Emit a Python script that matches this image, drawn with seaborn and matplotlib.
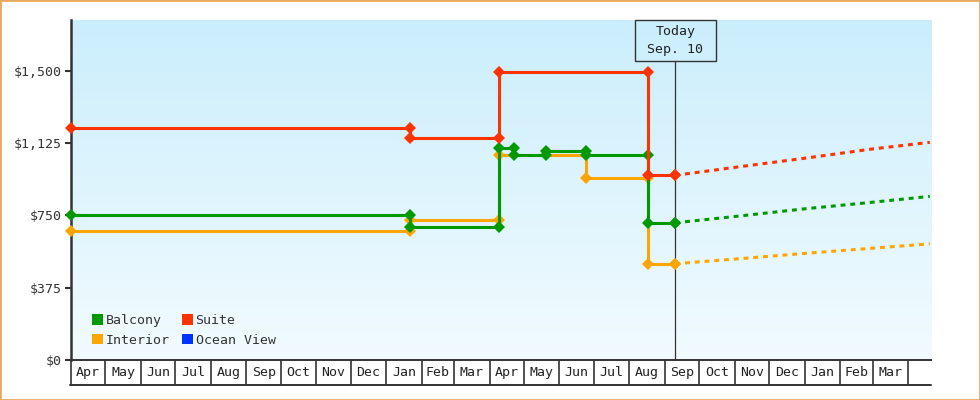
import numpy as np
import pandas as pd
import matplotlib
matplotlib.use("Agg")
import matplotlib.pyplot as plt
import matplotlib.dates as mdates
import matplotlib.transforms as mtransforms
from matplotlib.patches import Rectangle, Patch
from matplotlib.lines import Line2D
from matplotlib.colors import LinearSegmentedColormap
import seaborn as sns

# ---------------- data ----------------
suite_dates = ["2013-04-01", "2014-01-22", "2014-01-22", "2014-04-09", "2014-04-09",
               "2014-08-17", "2014-08-17", "2014-09-10"]
suite_prices = [1200, 1200, 1150, 1150, 1495, 1495, 957, 957]

balcony_dates = ["2013-04-01", "2014-01-22", "2014-01-22", "2014-04-09", "2014-04-09",
                 "2014-04-22", "2014-04-22", "2014-05-20", "2014-05-20", "2014-06-24",
                 "2014-06-24", "2014-08-17", "2014-08-17", "2014-09-10"]
balcony_prices = [750, 750, 688, 688, 1100, 1100, 1062, 1062, 1082, 1082, 1062, 1062, 711, 711]

interior_dates = ["2013-04-01", "2014-01-22", "2014-01-22", "2014-04-09", "2014-04-09",
                  "2014-06-24", "2014-06-24", "2014-08-17", "2014-08-17", "2014-09-10"]
interior_prices = [669, 669, 726, 726, 1062, 1062, 943, 943, 499, 499]

forecast_dates = ["2014-09-10", "2014-11-03", "2014-12-31", "2015-02-28", "2015-04-20"]
suite_forecast = [957, 1000, 1045, 1093, 1128]
balcony_forecast = [711, 745, 783, 817, 848]
interior_forecast = [499, 524, 552, 579, 602]

categories = ["Balcony", "Interior", "Suite", "Ocean View"]
colors = {"Balcony": "#009900", "Interior": "#ffa500", "Suite": "#ff3300", "Ocean View": "#0033ff"}

y_ticks = [0, 375, 750, 1125, 1500]
y_tick_labels = ["$0", "$375", "$750", "$1,125", "$1,500"]
month_labels = ["Apr", "May", "Jun", "Jul", "Aug", "Sep", "Oct", "Nov", "Dec", "Jan", "Feb", "Mar",
                "Apr", "May", "Jun", "Jul", "Aug", "Sep", "Oct", "Nov", "Dec", "Jan", "Feb", "Mar"]
today = "2014-09-10"
today_label = "Today\nSep. 10"

# ---------------- frames ----------------
hist = pd.concat([
    pd.DataFrame({"date": pd.to_datetime(interior_dates), "price": interior_prices, "cabin": "Interior"}),
    pd.DataFrame({"date": pd.to_datetime(balcony_dates), "price": balcony_prices, "cabin": "Balcony"}),
    pd.DataFrame({"date": pd.to_datetime(suite_dates), "price": suite_prices, "cabin": "Suite"}),
], ignore_index=True)
fc = pd.concat([
    pd.DataFrame({"date": pd.to_datetime(forecast_dates), "price": interior_forecast, "cabin": "Interior"}),
    pd.DataFrame({"date": pd.to_datetime(forecast_dates), "price": balcony_forecast, "cabin": "Balcony"}),
    pd.DataFrame({"date": pd.to_datetime(forecast_dates), "price": suite_forecast, "cabin": "Suite"}),
], ignore_index=True)

# ---------------- style ----------------
sns.set_theme(style="white")
plt.rcParams["font.family"] = ["DejaVu Sans Mono", "DejaVu Sans"]
FS = 9.5
DARK = "#333333"

fig = plt.figure(figsize=(9.8, 4.0), dpi=100)
fig.patch.set_facecolor("white")
ax = fig.add_axes([71 / 980, 40 / 400, 860 / 980, 340 / 400])
ax.patch.set_alpha(0)

# gradient background (blue at top, near white at bottom)
grad = np.linspace(0, 1, 256).reshape(-1, 1)
cmap = LinearSegmentedColormap.from_list("bg", ["#cbeefc", "#f2fbff"])
ax.imshow(grad, cmap=cmap, aspect="auto", extent=[0, 1, 0, 1], origin="upper",
          transform=ax.transAxes, zorder=0)

order = ["Interior", "Balcony", "Suite"]
for i, cab in enumerate(order):
    sub = fc[fc.cabin == cab]
    sns.lineplot(data=sub, x="date", y="price", color=colors[cab], estimator=None, sort=False,
                 lw=2.2, linestyle=(0, (1.6, 1.6)), ax=ax, legend=False, zorder=3 + i)
for i, cab in enumerate(order):
    sub = hist[hist.cabin == cab]
    sns.lineplot(data=sub, x="date", y="price", color=colors[cab], estimator=None, sort=False,
                 lw=2.2, marker="D", markersize=6, markeredgewidth=0, ax=ax, legend=False,
                 zorder=6 + i, clip_on=False)

# today markers on top
for i, cab in enumerate(order):
    last = hist[hist.cabin == cab].iloc[-1]
    ax.plot([last.date], [last.price], marker="D", ms=6, mew=0, color=colors[cab], zorder=10 + i)

x0 = pd.Timestamp("2013-04-01")
x1 = pd.Timestamp("2015-04-21")
ax.set_xlim(x0, x1)
ax.set_ylim(0, 1762)

# today line and box
td = pd.Timestamp(today)
ax.axvline(td, ymin=0, ymax=(360 - 61) / 340, color=DARK, lw=0.9, zorder=2)
blend = mtransforms.blended_transform_factory(ax.transData, ax.transAxes)
half = pd.Timedelta(days=35.4)
ax.add_patch(Rectangle((mdates.date2num(td - half), (360 - 61) / 340),
                       mdates.date2num(td + half) - mdates.date2num(td - half), 41 / 340,
                       transform=blend, fill=False, ec=DARK, lw=1.0, clip_on=False, zorder=12))
ax.text(td, (360 - 40.5) / 340, today_label, transform=blend, ha="center", va="center",
        fontsize=FS, color="#222222", linespacing=1.5, zorder=13)

# y axis
ax.set_yticks(y_ticks)
ax.set_yticklabels(y_tick_labels, fontsize=FS, color=DARK)
ax.tick_params(axis="y", length=4.5, width=1.5, color=DARK, pad=2, left=True)

# x axis as month cells
month_starts = pd.date_range("2013-04-01", "2015-04-01", freq="MS")
mids = [s + (month_starts[i + 1] - s) / 2 for i, s in enumerate(month_starts[:-1])]
ax.set_xticks(month_starts)
ax.set_xticklabels([""] * len(month_starts))
ax.set_xticks(mids, minor=True)
ax.set_xticklabels(month_labels, minor=True, fontsize=FS, color="#222222")
ax.tick_params(axis="x", which="major", length=18, width=1.2, color=DARK, direction="out", bottom=True)
ax.tick_params(axis="x", which="minor", length=0, pad=4, bottom=True)
ax.set_xlabel("")
ax.set_ylabel("")

for s in ["top", "right"]:
    ax.spines[s].set_visible(False)
ax.spines["left"].set_color(DARK)
ax.spines["left"].set_linewidth(1.8)
ax.spines["bottom"].set_color(DARK)
ax.spines["bottom"].set_linewidth(1.4)

fig.add_artist(Line2D([70 / 980, 931 / 980], [15 / 400, 15 / 400], color=DARK, lw=1.4))

# legend
handles = [Patch(facecolor=colors[c], edgecolor="none", label=c) for c in categories]
ax.legend(handles=handles, ncol=2, loc="upper left",
          bbox_to_anchor=((92 - 71) / 860, (360 - 314) / 340), frameon=False,
          fontsize=FS, handlelength=0.85, handleheight=0.85, handletextpad=0.2,
          columnspacing=0.9, labelspacing=0.5, borderpad=0, borderaxespad=0,
          labelcolor="#333333")

# border
fig.add_artist(Rectangle((0, 0), 1, 1, transform=fig.transFigure, fill=False,
                         ec="#e8a860", lw=2))

fig.savefig("out.png", dpi=100)
